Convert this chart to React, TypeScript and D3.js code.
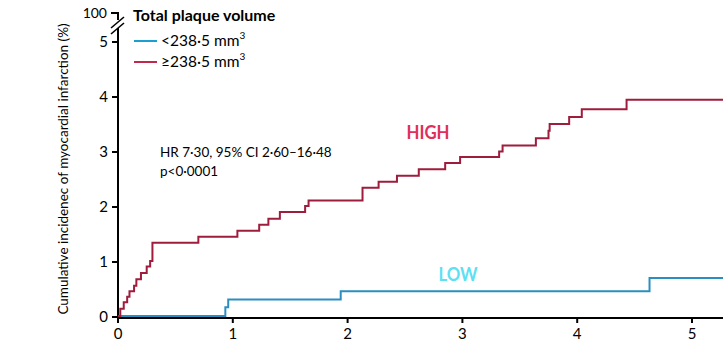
import React from "react";
import * as d3 from "d3";

const highTimes = [0, 0.02, 0.05, 0.08, 0.1, 0.14, 0.16, 0.2, 0.25, 0.28, 0.3, 0.7, 1.04, 1.23, 1.31, 1.41, 1.63, 1.66, 2.13, 2.27, 2.43, 2.62, 2.85, 2.98, 3.32, 3.35, 3.64, 3.75, 3.76, 3.93, 4.04, 4.43];
const highValues = [0, 0.13, 0.25, 0.35, 0.45, 0.55, 0.67, 0.78, 0.9, 1.0, 1.33, 1.44, 1.55, 1.66, 1.77, 1.89, 2.0, 2.1, 2.33, 2.44, 2.55, 2.67, 2.78, 2.89, 2.99, 3.1, 3.23, 3.37, 3.49, 3.62, 3.76, 3.93];
const lowTimes = [0, 0.935, 0.96, 1.94, 4.63];
const lowValues = [0, 0.16, 0.3, 0.45, 0.69];
const xTicks = [0, 1, 2, 3, 4, 5];
const yTicks = [0, 1, 2, 3, 4, 5];
const xEnd = 5.27;

const W = 723, H = 347;
const FONT = "Lato, 'Open Sans', sans-serif";

export default function App() {
  const x = d3.scaleLinear().domain([0, xEnd]).range([118, 723]);
  const y = d3.scaleLinear().domain([0, 5]).range([317, 42]);
  const line = d3.line<[number, number]>().x(d => x(d[0])).y(d => y(d[1])).curve(d3.curveStepAfter);
  const hi: [number, number][] = highTimes.map((t, i) => [t, highValues[i]]);
  hi.push([xEnd, highValues[highValues.length - 1]]);
  const lo: [number, number][] = lowTimes.map((t, i) => [t, lowValues[i]]);
  lo.push([xEnd, lowValues[lowValues.length - 1]]);
  const ax = x(0);
  return (
    <svg width={W} height={H} style={{ position: "absolute", left: 0, top: 0 }} fontFamily={FONT}>
      <rect width={W} height={H} fill="#fff" />
      {/* y axis */}
      <line x1={ax} x2={ax} y1={y(0) + 1} y2={28} stroke="#000" strokeWidth={2} />
      <line x1={ax} x2={ax} y1={12} y2={20} stroke="#000" strokeWidth={2} />
      <line x1={111} x2={ax + 1} y1={13} y2={13} stroke="#000" strokeWidth={2} />
      <line x1={111} x2={124} y1={28} y2={17} stroke="#000" strokeWidth={1.6} />
      <line x1={111} x2={124} y1={34} y2={23} stroke="#000" strokeWidth={1.6} />
      <text x={107} y={18} fontSize={14} textAnchor="end">100</text>
      {yTicks.map(v => (
        <g key={v}>
          <line x1={112} x2={ax} y1={y(v)} y2={y(v)} stroke="#000" strokeWidth={2} />
          <text x={108} y={y(v) + 5} fontSize={15} textAnchor="end">{v}</text>
        </g>
      ))}
      {/* x axis */}
      <line x1={ax - 1} x2={W} y1={y(0) + 1} y2={y(0) + 1} stroke="#000" strokeWidth={2} />
      {xTicks.map(v => (
        <g key={v}>
          <line x1={x(v)} x2={x(v)} y1={y(0)} y2={y(0) + 6} stroke="#000" strokeWidth={2} />
          <text x={x(v)} y={339} fontSize={15} textAnchor="middle">{v}</text>
        </g>
      ))}
      {/* data */}
      <path d={line(lo) || ""} fill="none" stroke="#2a8fc0" strokeWidth={2} transform="translate(0,-1)" />
      <path d={line(hi) || ""} fill="none" stroke="#9e1c3c" strokeWidth={2} transform="translate(0,-1)" />
      <text transform={`translate(68,169) rotate(-90)`} fontSize={13.5} textAnchor="middle">Cumulative incidenec of myocardial infarction (%)</text>
      {/* legend */}
      <text x={133} y={21} fontSize={16} fontWeight="bold">Total plaque volume</text>
      <line x1={134} x2={157} y1={41} y2={41} stroke="#1a9fd0" strokeWidth={2} />
      <text x={161} y={46} fontSize={15.5}>{"<238·5 mm"}<tspan fontSize={10} dy={-7}>3</tspan></text>
      <line x1={134} x2={157} y1={62} y2={62} stroke="#c0284c" strokeWidth={2} />
      <text x={161} y={67} fontSize={15.5}>{"≥238·5 mm"}<tspan fontSize={10} dy={-7}>3</tspan></text>
      {/* annotations */}
      <text x={160} y={157} fontSize={13.5}>HR 7·30, 95% CI 2·60–16·48</text>
      <text x={160} y={176} fontSize={13.5}>p&lt;0·0001</text>
      <text x={428} y={139} fontSize={19} fontWeight="bold" fill="#e0305a" textAnchor="middle" textLength={43} lengthAdjust="spacingAndGlyphs">HIGH</text>
      <text x={458} y={281} fontSize={18} fontWeight="bold" fill="#5ce0f4" textAnchor="middle" textLength={39} lengthAdjust="spacingAndGlyphs">LOW</text>
    </svg>
  );
}
